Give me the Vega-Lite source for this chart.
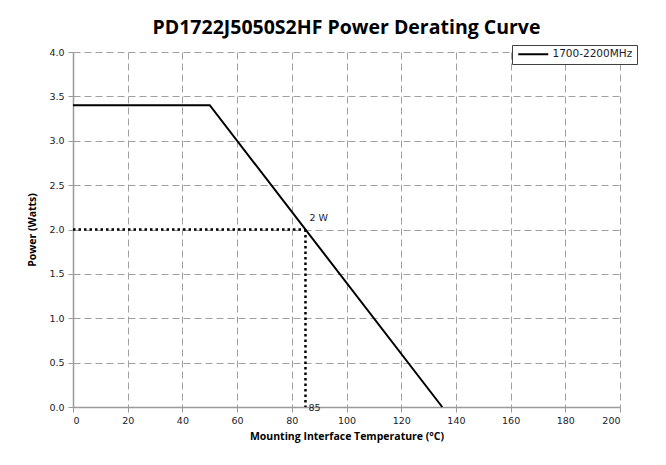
{
  "$schema": "https://vega.github.io/schema/vega-lite/v6.json",
  "width": 547,
  "height": 355,
  "autosize": "none",
  "padding": {"left": 73, "top": 52, "right": 46, "bottom": 58},
  "background": "white",
  "title": {
    "text": "PD1722J5050S2HF Power Derating Curve",
    "font": "Open Sans",
    "fontSize": 19.5,
    "fontWeight": "bold",
    "color": "#000000",
    "anchor": "middle",
    "frame": "group",
    "offset": 6
  },
  "datasets": {
    "curve": [
      {"temp": 0, "power": 3.4, "series": "1700-2200MHz"},
      {"temp": 50, "power": 3.4, "series": "1700-2200MHz"},
      {"temp": 135, "power": 0, "series": "1700-2200MHz"}
    ],
    "dots": [
      {"temp": 0, "power": 2, "seg": "h"},
      {"temp": 85, "power": 2, "seg": "h"},
      {"temp": 85, "power": 2, "seg": "v"},
      {"temp": 85, "power": 0, "seg": "v"}
    ],
    "labels": [
      {"temp": 85, "power": 2, "label": "2 W"}
    ],
    "labels2": [
      {"temp": 85, "power": 0, "label": "85"}
    ]
  },
  "config": {
    "view": {"stroke": null},
    "axis": {
      "gridColor": "#a0a0a0",
      "gridDash": [7, 4],
      "gridWidth": 1,
      "domainColor": "#9a9a9a",
      "domainWidth": 1.5,
      "tickColor": "#9a9a9a",
      "tickSize": 5,
      "labelFont": "DejaVu Sans",
      "labelFontSize": 9.5,
      "labelColor": "#1a1a2a",
      "titleFont": "Open Sans",
      "titleFontSize": 10.5,
      "titleFontWeight": "bold",
      "titleColor": "#000000"
    }
  },
  "layer": [
    {
      "data": {"name": "curve"},
      "mark": {"type": "line", "strokeWidth": 2},
      "encoding": {
        "x": {
          "field": "temp", "type": "quantitative",
          "scale": {"domain": [0, 200], "nice": false},
          "axis": {"values": [0,20,40,60,80,100,120,140,160,180,200], "format": "d", "title": "Mounting Interface Temperature (°C)", "titlePadding": 7, "labelPadding": 3}
        },
        "y": {
          "field": "power", "type": "quantitative",
          "scale": {"domain": [0, 4], "nice": false},
          "axis": {"values": [0,0.5,1,1.5,2,2.5,3,3.5,4], "format": ".1f", "title": "Power (Watts)", "titlePadding": 11, "labelPadding": 4}
        },
        "color": {
          "field": "series", "type": "nominal",
          "scale": {"range": ["#000000"]},
          "legend": {
            "title": null,
            "orient": "none",
            "legendX": 439,
            "legendY": -7,
            "symbolType": "M-5,0H5",
            "symbolSize": 36,
            "symbolStrokeWidth": 2,
            "symbolOffset": 12,
            "labelOffset": 14,
            "labelFont": "DejaVu Sans",
            "labelFontSize": 10.5,
            "labelColor": "#1a1a2a",
            "padding": 4,
            "strokeColor": "#404040",
            "fillColor": "white",
            "cornerRadius": 0
          }
        }
      }
    },
    {
      "data": {"name": "dots"},
      "mark": {"type": "line", "strokeWidth": 2.5, "strokeDash": [2.5, 3], "color": "#000000"},
      "encoding": {
        "x": {"field": "temp", "type": "quantitative"},
        "y": {"field": "power", "type": "quantitative"},
        "detail": {"field": "seg"}
      }
    },
    {
      "data": {"name": "labels"},
      "mark": {"type": "text", "font": "DejaVu Sans", "fontSize": 9.5, "color": "#1a1a2a", "align": "left", "dx": 4, "dy": -12},
      "encoding": {
        "x": {"field": "temp", "type": "quantitative"},
        "y": {"field": "power", "type": "quantitative"},
        "text": {"field": "label"}
      }
    },
    {
      "data": {"name": "labels2"},
      "mark": {"type": "text", "font": "DejaVu Sans", "fontSize": 9.5, "color": "#1a1a2a", "align": "left", "dx": 3, "dy": 1},
      "encoding": {
        "x": {"field": "temp", "type": "quantitative"},
        "y": {"field": "power", "type": "quantitative"},
        "text": {"field": "label"}
      }
    }
  ]
}
